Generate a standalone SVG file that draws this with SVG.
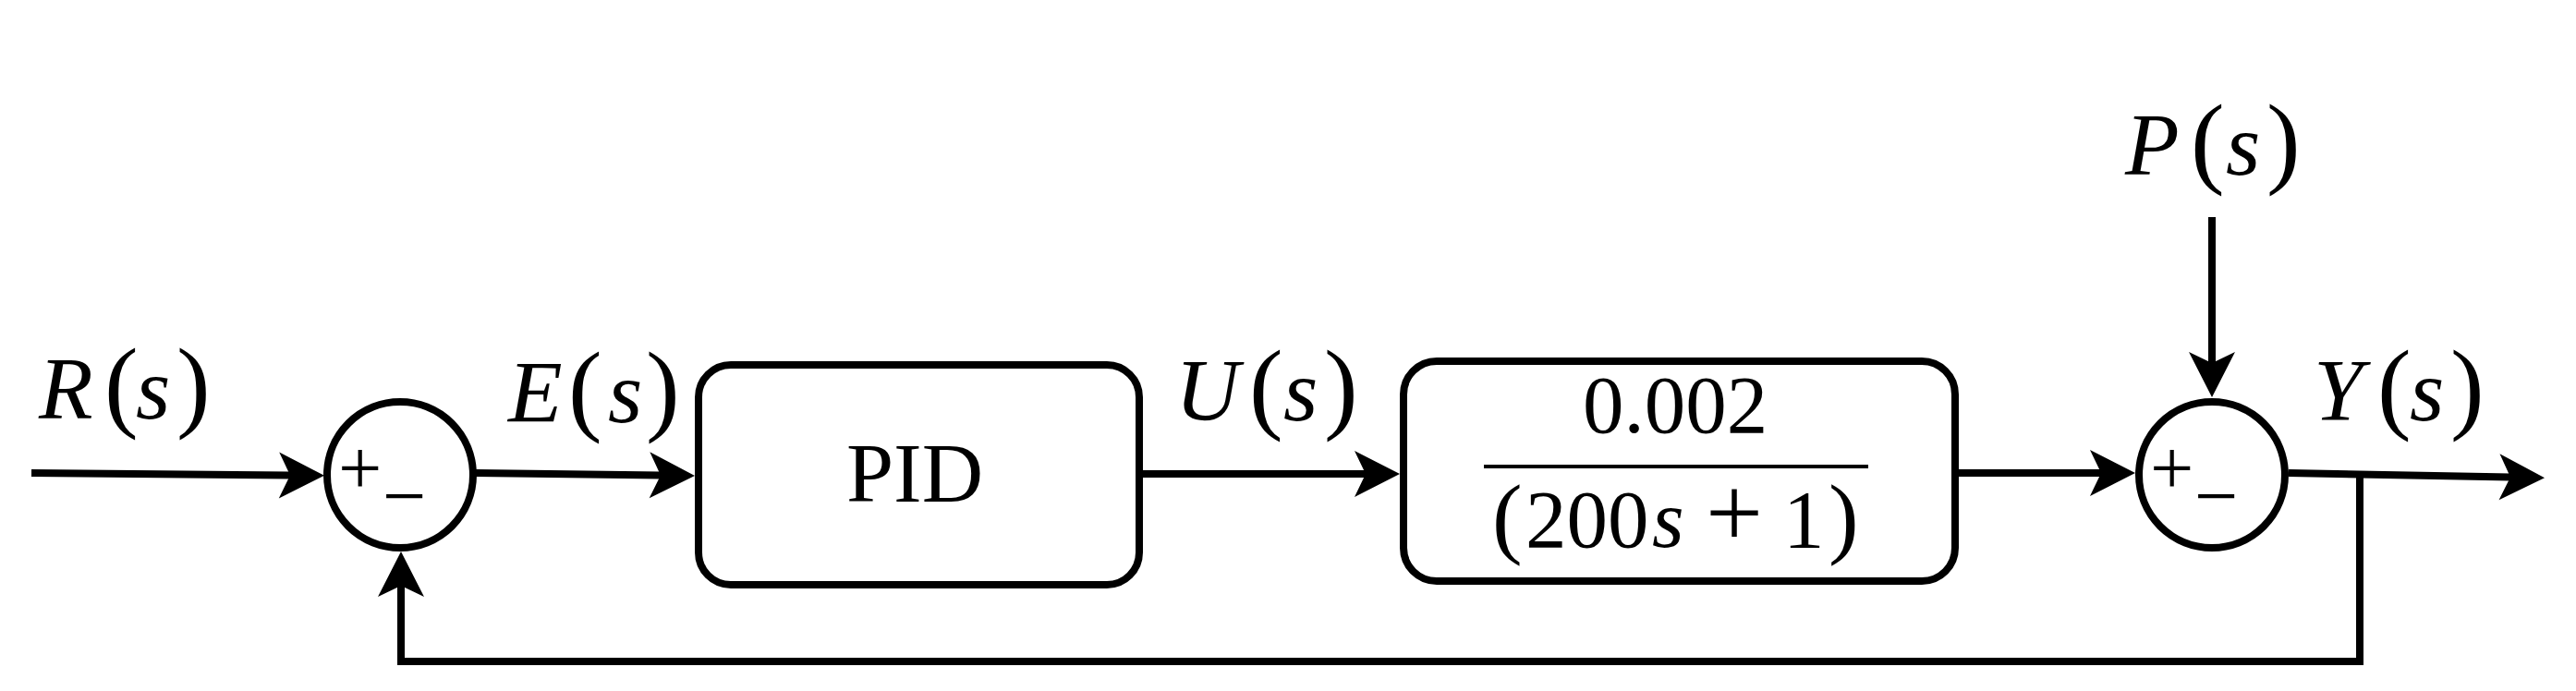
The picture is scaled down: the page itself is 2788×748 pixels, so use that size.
<svg xmlns="http://www.w3.org/2000/svg" width="2788" height="748" viewBox="0 0 2788 748">
<style>
.bg{fill:#ffffff}
.box{fill:none;stroke:#000;stroke-width:8}
.ring{fill:#fff;stroke:#000;stroke-width:8}
.wire{fill:none;stroke:#000;stroke-width:8;stroke-linejoin:miter}
.arrow{marker-end:url(#ah)}
.lbl{font-family:"Liberation Serif","Times New Roman",serif;font-size:96px;fill:#000}
.it{font-style:italic}
.par{font-size:110px;font-style:normal}
.rm{font-family:"Liberation Serif","Times New Roman",serif;fill:#000}
.sgn{font-family:"Liberation Serif","Times New Roman",serif;fill:#000;font-size:84px}
</style>
<defs>
<marker id="ah" viewBox="-50 -27 52 54" refX="-37" refY="0" markerWidth="52" markerHeight="54" markerUnits="userSpaceOnUse" orient="auto">
<path d="M0,0 L-49,-25 L-37,0 L-49,25 Z" fill="#000"/>
</marker>
</defs>
<rect class="bg" x="0" y="0" width="2788" height="748"/>

<g id="connectors">
<path class="wire arrow" d="M34,512 L314,514.5"/>
<path class="wire arrow" d="M515,512 L715,514.5"/>
<path class="wire arrow" d="M1237,513 L1478,513"/>
<path class="wire arrow" d="M2120,512 L2274,512"/>
<path class="wire arrow" d="M2394,235 L2394,393"/>
<path class="wire arrow" d="M2477,512 L2717,516.5"/>
<path class="wire arrow" d="M2554,512 L2554,716 L434,716 L434,634"/>
</g>

<g id="sum1">
<circle class="ring" cx="433" cy="514" r="79"/>
<text class="sgn" x="366" y="535">+</text>
<text class="sgn" x="414" y="565" font-size="80">−</text>
</g>

<g id="pid">
<rect class="box" x="756" y="395" width="477" height="238" rx="35" ry="35"/>
<text class="rm" x="990" y="543" font-size="92" text-anchor="middle">PID</text>
</g>

<g id="plant">
<rect class="box" x="1519" y="391" width="597" height="238" rx="36" ry="36"/>
<text class="rm" x="1813" y="468" font-size="89" text-anchor="middle">0.002</text>
<line x1="1606" y1="505" x2="2022" y2="505" stroke="#000" stroke-width="4"/>
<text class="rm" y="592" font-size="89"><tspan x="1615" font-size="98">(</tspan><tspan x="1651">200</tspan><tspan x="1788" font-style="italic">s</tspan> <tspan x="1846" font-size="110">+</tspan> <tspan x="1930">1</tspan><tspan x="1979" font-size="98">)</tspan></text>
</g>

<g id="sum2">
<circle class="ring" cx="2394" cy="514" r="79"/>
<text class="sgn" x="2327" y="535">+</text>
<text class="sgn" x="2375" y="565" font-size="80">−</text>
</g>

<g id="label-R">
<text class="lbl" y="453"><tspan class="it" x="42">R</tspan><tspan class="par" x="113">(</tspan><tspan class="it" x="147">s</tspan><tspan class="par" x="191">)</tspan></text>
</g>
<g id="label-E">
<text class="lbl" y="457"><tspan class="it" x="550">E</tspan><tspan class="par" x="615">(</tspan><tspan class="it" x="658">s</tspan><tspan class="par" x="699">)</tspan></text>
</g>
<g id="label-U">
<text class="lbl" y="455"><tspan class="it" x="1272">U</tspan><tspan class="par" x="1352">(</tspan><tspan class="it" x="1389">s</tspan><tspan class="par" x="1433">)</tspan></text>
</g>
<g id="label-P">
<text class="lbl" y="189"><tspan class="it" x="2300">P</tspan><tspan class="par" x="2371">(</tspan><tspan class="it" x="2409">s</tspan><tspan class="par" x="2453">)</tspan></text>
</g>
<g id="label-Y">
<text class="lbl" y="455"><tspan class="it" x="2504">Y</tspan><tspan class="par" x="2573">(</tspan><tspan class="it" x="2608">s</tspan><tspan class="par" x="2652">)</tspan></text>
</g>
</svg>
